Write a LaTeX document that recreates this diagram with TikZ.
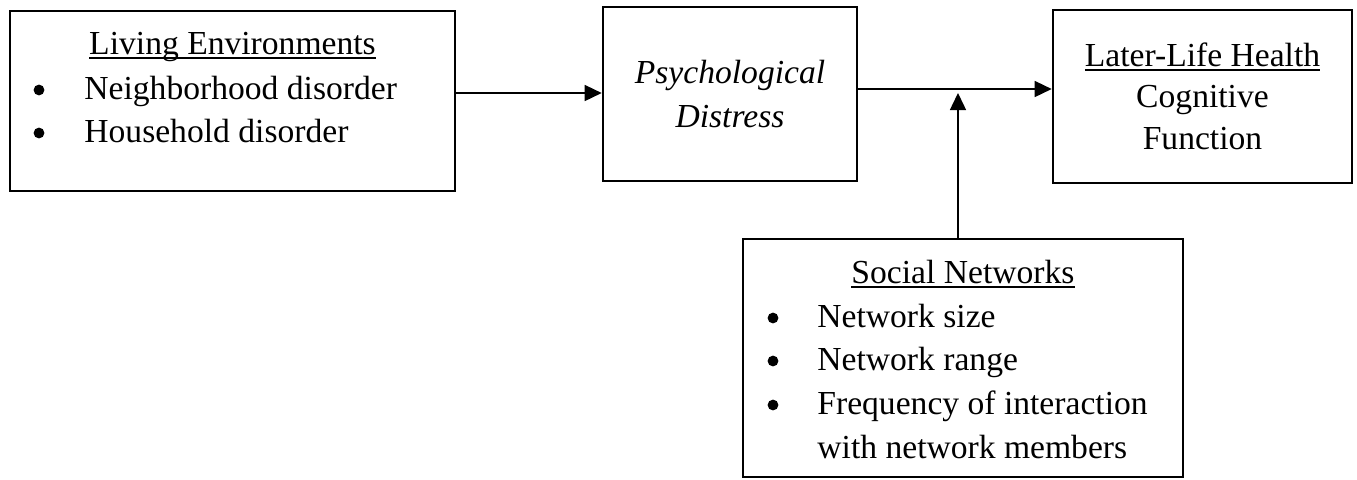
\documentclass[tikz,border=0pt]{standalone}
\usepackage{fontspec}
\setmainfont{Liberation Serif}
\usetikzlibrary{arrows.meta}
\newcommand\myul[1]{\setbox0\hbox{#1}\rlap{\rule[-2.3pt]{\wd0}{0.75pt}}\box0}
\begin{document}
\begin{tikzpicture}[x=0.5pt,y=-0.5pt,
  box/.style={draw, line width=1.3pt, inner sep=0pt},
  txt/.style={inner sep=0pt, font=\fontsize{16.8pt}{22pt}\selectfont},
  bul/.style={circle, fill, inner sep=0pt, minimum size=5.4pt},
  arr/.style={line width=0.75pt, -{Triangle[length=8.5pt,width=8pt]}}]
\useasboundingbox (0,0) rectangle (1357,479);
% boxes
\node[box, minimum width=222.5pt, minimum height=90pt] (le) at (232.5,101) {};
\node[box, minimum width=127pt, minimum height=87pt] (pd) at (730,94) {};
\node[box, minimum width=149.5pt, minimum height=86.5pt] (llh) at (1202.5,96.5) {};
\node[box, minimum width=220pt, minimum height=119pt] (sn) at (963,358) {};
% Living Environments
\node[txt, anchor=base] (leT) at (232.5,54) {\myul{Living Environments}};
\node[bul] (leB1) at (39,90) {};
\node[txt, anchor=base west] (le1) at (84,99) {Neighborhood disorder};
\node[bul] (leB2) at (39,133) {};
\node[txt, anchor=base west] (le2) at (84,142) {Household disorder};
% Psychological Distress
\node[txt, anchor=base] (pd1) at (730,83) {\itshape Psychological};
\node[txt, anchor=base] (pd2) at (730,127) {\itshape Distress};
% Later-Life Health
\node[txt, anchor=base] (llhT) at (1202.5,66) {\myul{Later-Life Health}};
\node[txt, anchor=base] (llh1) at (1202.5,107) {Cognitive};
\node[txt, anchor=base] (llh2) at (1202.5,149) {Function};
% Social Networks
\node[txt, anchor=base] (snT) at (963,283) {\myul{Social Networks}};
\node[bul] (snB1) at (773,318) {};
\node[txt, anchor=base west] (sn1) at (817,327) {Network size};
\node[bul] (snB2) at (773,361) {};
\node[txt, anchor=base west] (sn2) at (817,370) {Network range};
\node[bul] (snB3) at (773,405) {};
\node[txt, anchor=base west] (sn3) at (817,414) {Frequency of interaction};
\node[txt, anchor=base west] (sn4) at (817,458) {with network members};
% connectors
\coordinate (ya) at (0,93);
\coordinate (yb) at (0,89);
\coordinate (tip) at (958,93);
\draw[arr] (le.east |- ya) -- (pd.west |- ya);
\draw[arr] (pd.east |- yb) -- (llh.west |- yb);
\draw[arr] (sn.north -| tip) -- (tip);
\end{tikzpicture}
\end{document}
